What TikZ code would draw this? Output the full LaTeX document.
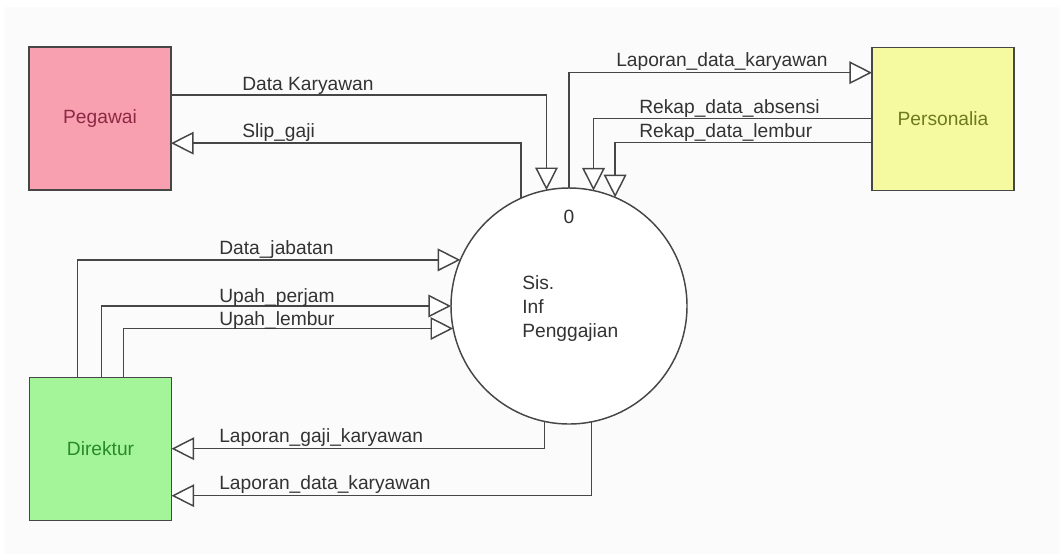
\documentclass[tikz,border=0pt]{standalone}
\usepackage{fontspec}
\setmainfont{Liberation Sans}
\usetikzlibrary{arrows.meta,calc}

\definecolor{pegfill}{RGB}{249,160,176}
\definecolor{pegtext}{RGB}{140,40,68}
\definecolor{persfill}{RGB}{245,250,160}
\definecolor{perstext}{RGB}{110,122,30}
\definecolor{dirfill}{RGB}{164,245,154}
\definecolor{dirtext}{RGB}{40,138,40}
\definecolor{linegray}{RGB}{70,70,70}
\definecolor{paper}{RGB}{251,251,251}

\tikzset{
  entity/.style={draw=linegray, line width=1.1pt, rectangle, inner sep=0pt, outer sep=0pt,
    minimum width=106.5pt, minimum height=107pt, font=\fontsize{14.4}{17}\selectfont},
  process/.style={draw=linegray, line width=1.1pt, circle, fill=white, inner sep=0pt, outer sep=0pt,
    minimum size=177pt},
  flow/.style={draw=linegray, line width=1.1pt,
    -{Triangle[length=17pt,width=17pt,fill=white,line width=1.1pt]}},
  lbl/.style={anchor=base west, inner sep=0pt, text=black!80, font=\fontsize{14.4}{17}\selectfont},
}

\begin{document}
\begin{tikzpicture}[x=0.75pt,y=-0.75pt]
  % page and sheet
  \fill[white] (0,0) rectangle (1059,554);
  \fill[paper] (5,7) rectangle (1059,554);
  \useasboundingbox (0,0) rectangle (1059,554);

  % external entities
  \node[entity, fill=pegfill, text=pegtext]   (peg)  at (100,118.5) {Pegawai};
  \node[entity, fill=persfill, text=perstext] (pers) at (943,119)   {Personalia};
  \node[entity, fill=dirfill, text=dirtext]   (dir)  at (100.5,449) {Direktur};

  % the process
  \node[process] (proc) at (569,306) {};
  \node[lbl, anchor=base] (pnum) at (569,223) {0};
  \node[lbl] (pname1) at (522,289) {Sis.};
  \node[lbl] (pname2) at (522,313) {Inf};
  \node[lbl] (pname3) at (522,337) {Penggajian};

  % Pegawai flows
  \draw[flow] ($(peg.north east)+(0,48)$) -| (proc.101.74);
  \draw[flow] (proc.114) |- ($(peg.north east)+(0,96)$);
  \node[lbl] (l1) at (242,90)  {Data Karyawan};
  \node[lbl] (l2) at (242,137) {Slip\_gaji};

  % Personalia flows
  \draw[flow] (proc.90.5) |- ($(pers.north west)+(0,25)$);
  \draw[flow] ($(pers.north west)+(0,71)$) -| (proc.78.76);
  \draw[flow] ($(pers.north west)+(0,95)$) -| (proc.67.06);
  \node[lbl] (l3) at (616,66)  {Laporan\_data\_karyawan};
  \node[lbl] (l4) at (639,113) {Rekap\_data\_absensi};
  \node[lbl] (l5) at (639,137) {Rekap\_data\_lembur};

  % Direktur flows
  \draw[flow] ($(dir.north west)+(48,0)$) |- (proc.157.06);
  \draw[flow] ($(dir.north west)+(72,0)$) |- (proc.180.5);
  \draw[flow] ($(dir.north west)+(94,0)$) |- (proc.191.74);
  \draw[flow] (proc.258.26) |- ($(dir.north east)+(0,71)$);
  \draw[flow] (proc.281.24) |- ($(dir.north east)+(0,118)$);
  \node[lbl] (l6)  at (219,254) {Data\_jabatan};
  \node[lbl] (l7)  at (219,302) {Upah\_perjam};
  \node[lbl] (l8)  at (219,325) {Upah\_lembur};
  \node[lbl] (l9)  at (219,442) {Laporan\_gaji\_karyawan};
  \node[lbl] (l10) at (219,489) {Laporan\_data\_karyawan};
\end{tikzpicture}
\end{document}
